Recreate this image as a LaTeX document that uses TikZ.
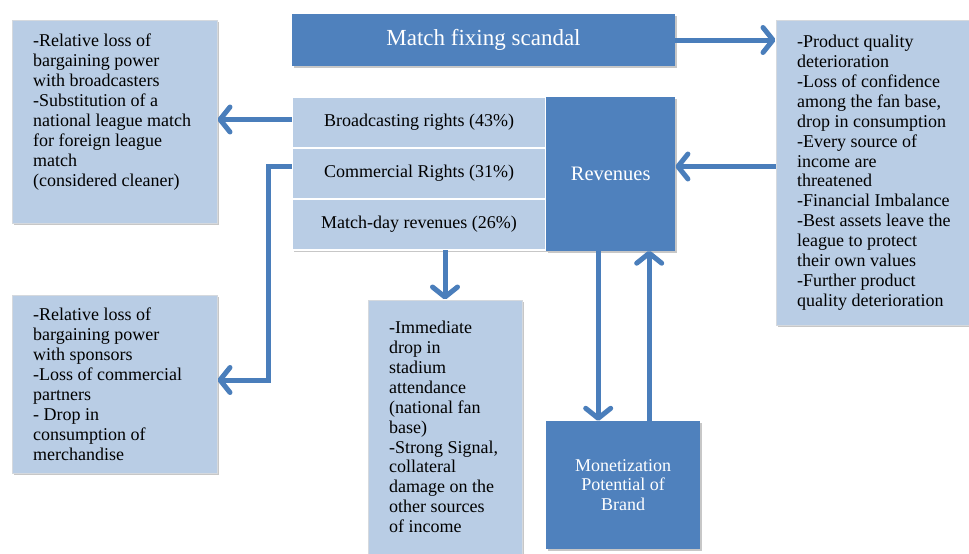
\documentclass[tikz,border=0pt]{standalone}
\usepackage{fontspec}
\setmainfont{Liberation Serif}
\usetikzlibrary{arrows.meta, positioning, calc, shadows}
\definecolor{DarkBlue}{HTML}{4F81BD}
\definecolor{LightBlue}{HTML}{B9CDE5}
\definecolor{ArrowBlue}{HTML}{4A7EBB}
\definecolor{Frame}{HTML}{D5D9DE}
\tikzset{
  txt/.style={align=left, inner sep=0pt, anchor=north west,
              font=\fontsize{18}{19.9}\selectfont},
  arr/.style={-{Straight Barb[length=10pt,width=25pt,line cap=round,line join=round]},
              line width=5pt, color=ArrowBlue}
}

\begin{document}
\begin{tikzpicture}[x=1pt, y=-1pt,
  boxshadow/.style={drop shadow={shadow xshift=1.5pt,shadow yshift=-2pt,
                    fill=black,opacity=0.22}},
  lbox/.style={draw=Frame, fill=LightBlue, line width=1pt, boxshadow},
  dbox/.style={fill=DarkBlue, text=white, align=center, boxshadow},
  row/.style={fill=LightBlue, draw=white, line width=2.5pt, outer sep=0pt,
              minimum width=254, minimum height=51,
              font=\fontsize{18}{20}\selectfont, boxshadow}
]
  \useasboundingbox[fill=white] (0,0) rectangle (969,554);

  \node[dbox, minimum width=383, minimum height=52,
        font=\fontsize{23}{27}\selectfont] (scandal) at (483.5,40) {Match fixing scandal};

  \node[row]                 (broad) at (419,122.5) {Broadcasting rights (43\%)};
  \node[row,below=0pt of broad] (comm)  {Commercial Rights (31\%)};
  \node[row,below=0pt of comm]  (mday)  {Match-day revenues (26\%)};
  \node[dbox,right=0pt of comm, minimum width=129, minimum height=154,
        font=\fontsize{20.5}{24}\selectfont] (rev) {Revenues};

  \node[lbox, minimum width=205, minimum height=203] (tlbox)  at (114.5,121.5) {};
  \node[lbox, minimum width=205, minimum height=178] (blbox)  at (114.5,384) {};
  \node[lbox, minimum width=214, minimum height=305] (rtbox)  at (883,172.5) {};
  \node[lbox, minimum width=154, minimum height=270] (midbox) at (445,435) {};
  \node[dbox, minimum width=154, minimum height=128,
        font=\fontsize{18}{19.5}\selectfont] (brand) at (623,485)
        {Monetization\\Potential of\\Brand};

  % box texts
  \node[txt] (tltxt) at (33,34) {-Relative loss of\\bargaining power\\with broadcasters\\
    -Substitution of a\\national league match\\for foreign league\\match\\(considered cleaner)};
  \node[txt] (bltxt) at (33,308) {-Relative loss of\\bargaining power\\with sponsors\\
    -Loss of commercial\\partners\\- Drop in\\consumption of\\merchandise};
  \node[txt] (rttxt) at (797,35) {-Product quality\\deterioration\\-Loss of confidence\\
    among the fan base,\\drop in consumption\\-Every source of\\income are\\threatened\\
    -Financial Imbalance\\-Best assets leave the\\league to protect\\their own values\\
    -Further product\\quality deterioration};
  \node[txt] (midtxt) at (389,321) {-Immediate\\drop in\\stadium\\attendance\\
    (national fan\\base)\\-Strong Signal,\\collateral\\damage on the\\other sources\\of income};

  \draw[arr] (scandal.east) -- (rtbox.west |- scandal.east);
  \draw[arr] ([yshift=7pt]rtbox.west |- rev.east) -- ([yshift=7pt]rev.east);
  \draw[arr] ([yshift=3pt]broad.west) -- ([yshift=3pt]tlbox.east |- broad.west);
  \draw[arr] ([yshift=7pt]comm.west) -- ++(-24,0) |- ([yshift=4pt]blbox.east);
  \draw[arr] (midbox.north |- mday.south) -- (midbox.north);
  % brand loop
  \coordinate (dn) at ([xshift=-12.5pt]rev.south);
  \coordinate (up) at ([xshift=38.5pt]rev.south);
  \draw[arr] (dn) -- (dn |- brand.north);
  \draw[arr] (up |- brand.north) -- (up);
\end{tikzpicture}
\end{document}
